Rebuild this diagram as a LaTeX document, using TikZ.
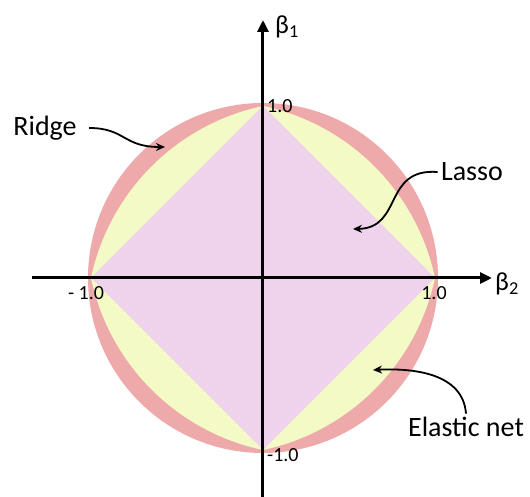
\documentclass[tikz,border=0pt]{standalone}
\usepackage{fontspec}
\setmainfont{Carlito}
\usetikzlibrary{arrows.meta}
\definecolor{ridgeFill}{HTML}{EEAAAA}
\definecolor{elasticFill}{HTML}{F4FAC6}
\definecolor{lassoFill}{HTML}{EFD2EC}
\tikzset{
  axisline/.style = {line width=3pt, -{Triangle[length=12pt,width=11pt]}},
  pointer/.style  = {line width=1.8pt, -{Stealth[length=9pt,width=8pt]}},
  lbl/.style      = {font=\fontsize{28}{30}\selectfont},
  tick/.style     = {font=\fontsize{20}{22}\selectfont, inner sep=0pt},
  axlbl/.style    = {font=\fontsize{26}{28}\selectfont, inner sep=0pt, anchor=west},
}

\begin{document}
\begin{tikzpicture}[x=1pt, y=1pt]
  \useasboundingbox (-263,-219) rectangle (267,278);

  % constraint regions
  \fill[ridgeFill] (0,0) circle (175pt);
  \fill[elasticFill] plot[domain=0:360, samples=361, variable=\t]
    (\t:{172*(-0.35*(abs(cos(\t))+abs(sin(\t)))
      + sqrt(0.1225*(abs(cos(\t))+abs(sin(\t)))^2 + 2.6))/1.3}) -- cycle;
  \fill[lassoFill] (172,0) -- (0,172) -- (-172,0) -- (0,-172) -- cycle;

  % axes
  \coordinate (xl) at (-231,0);
  \coordinate (xr) at (229,0);
  \coordinate (yb) at (0,-219);
  \coordinate (yt) at (0,258);
  \draw[axisline] (xl) -- (xr);
  \draw[axisline] (yb) -- (yt);

  \node[axlbl] (b1) at (12,251) {β\textsubscript{1}};
  \node[axlbl] (b2) at (232,-6) {β\textsubscript{2}};

  \node[tick, anchor=west] (ytop) at (4,172) {1.0};
  \node[tick, anchor=west] (ybot) at (4,-177) {-1.0};
  \node[tick] (xright) at (171,-15) {1.0};
  \node[tick] (xleft) at (-177,-15) {- 1.0};

  % labels
  \node[lbl] (ridge) at (-218,150) {Ridge};
  \node[lbl] (lasso) at (209,106) {Lasso};
  \node[lbl] (elastic) at (203,-149) {Elastic net};

  \coordinate (ridgetip) at (-98,131);
  \coordinate (lassotip) at (90,49);
  \coordinate (elastictip) at (110,-92);

  \draw[pointer, shorten <=9pt] (ridge.east) .. controls +(45,0) and (-140,131) .. (ridgetip);
  \draw[pointer] (lasso.west) .. controls (120,110) and (140,50) .. (lassotip);
  \draw[pointer] (elastic.north) .. controls (200,-95) and (150,-90) .. (elastictip);
\end{tikzpicture}
\end{document}
